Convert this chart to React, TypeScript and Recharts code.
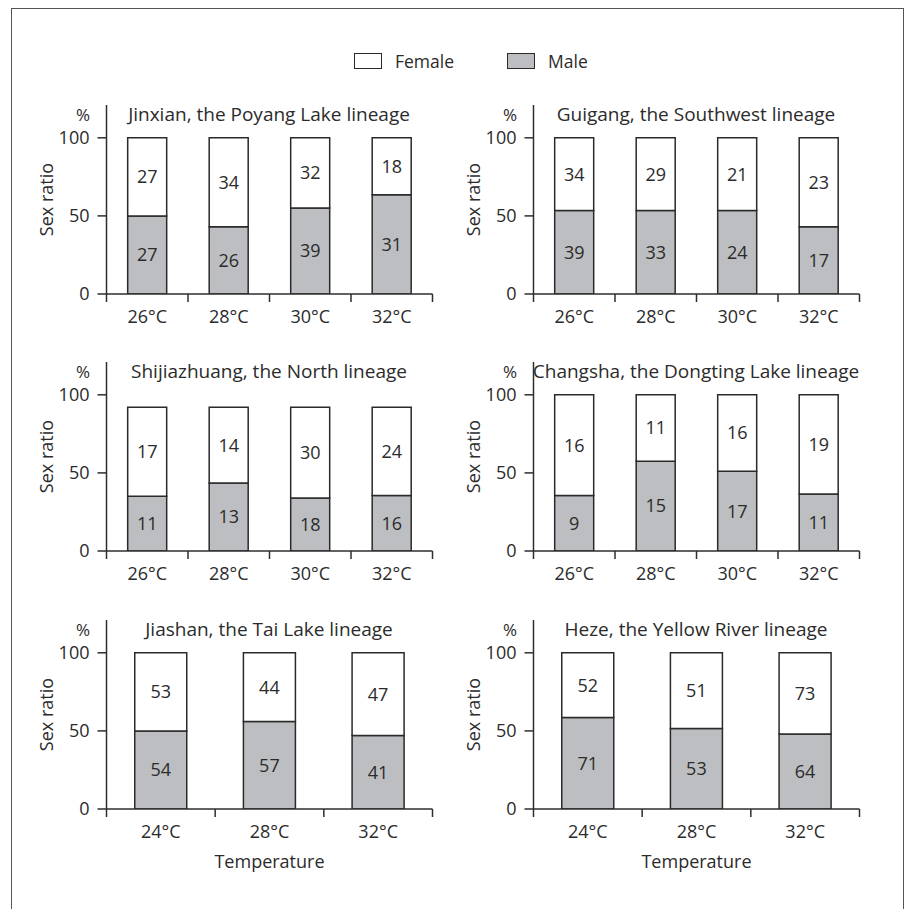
import { BarChart, Bar, XAxis, YAxis, LabelList, Label } from "recharts";

const temps4 = ["26°C", "28°C", "30°C", "32°C"];
const temps3 = ["24°C", "28°C", "32°C"];

// counts written in the bars
const jinxianMale = [27, 26, 39, 31];
const jinxianFemale = [27, 34, 32, 18];
const guigangMale = [39, 33, 24, 17];
const guigangFemale = [34, 29, 21, 23];
const shijiazhuangMale = [11, 13, 18, 16];
const shijiazhuangFemale = [17, 14, 30, 24];
const changshaMale = [9, 15, 17, 11];
const changshaFemale = [16, 11, 16, 19];
const jiashanMale = [54, 57, 41];
const jiashanFemale = [53, 44, 47];
const hezeMale = [71, 53, 64];
const hezeFemale = [52, 51, 73];

// plotted heights (%): male part and the whole bar
const jinxianMalePct = [50, 43, 55, 63.5];
const jinxianTotal = [100, 100, 100, 100];
const guigangMalePct = [53.5, 53.5, 53.5, 43];
const guigangTotal = [100, 100, 100, 100];
const shijiazhuangMalePct = [35, 43.5, 34, 35.5];
const shijiazhuangTotal = [92, 92, 92, 92];
const changshaMalePct = [35.5, 57.5, 51, 36.5];
const changshaTotal = [100, 100, 100, 100];
const jiashanMalePct = [50, 56, 47];
const jiashanTotal = [100, 100, 100];
const hezeMalePct = [58.5, 51.5, 48];
const hezeTotal = [100, 100, 100];

const yTicks = [0, 50, 100];

const FONT = '"Open Sans", sans-serif';
const TEXT = "#2b2b2b";
const AXIS = "#2e2e2e";
const EDGE = "#2a2a2a";
const GREY = "#bdbec1";
const FS = 18;

const CHART_W = 460;
const CHART_H = 260;
const PLOT_H = 189;
const AXIS_W = 106;
const RIGHT = 28;
const Y_MAX = 121;

// category label in the middle, tick marks on the band edges
const BoundTick = (props: any) => {
  const { x, y, payload, index, band, n } = props;
  const axisY = y - 16;
  const left = x - band / 2;
  const right = x + band / 2;
  return (
    <g>
      <line x1={left} x2={left} y1={axisY} y2={axisY + 8} stroke={AXIS} strokeWidth={1.5} />
      {index === n - 1 && (
        <line x1={right} x2={right} y1={axisY} y2={axisY + 8} stroke={AXIS} strokeWidth={1.5} />
      )}
      <text x={x} y={y} dy="0.71em" textAnchor="middle" fill={TEXT} fontSize={FS} fontFamily={FONT}>
        {payload.value}
      </text>
    </g>
  );
};

type PanelProps = {
  title: string;
  temps: string[];
  male: number[];
  female: number[];
  malePct: number[];
  total: number[];
  left: number;
  top: number;
  showTemp?: boolean;
};

const Panel = ({ title, temps, male, female, malePct, total, left, top, showTemp }: PanelProps) => {
  const data = temps.map((t, i) => ({
    temp: t,
    male: malePct[i],
    female: total[i] - malePct[i],
    maleN: male[i],
    femaleN: female[i],
  }));
  const n = temps.length;
  const plotW = CHART_W - RIGHT - AXIS_W;
  const band = plotW / n;
  const tickStyle = { fill: TEXT, fontSize: FS, fontFamily: FONT };
  const labelStyle = { fill: TEXT, fontSize: FS, fontFamily: FONT };

  return (
    <>
      <div
        style={{
          position: "absolute",
          left: left + AXIS_W - 23,
          top: top + 9,
          transform: "translate(-50%, -50%)",
          fontFamily: FONT,
          fontSize: 17,
          color: TEXT,
          lineHeight: 1,
        }}
      >
        %
      </div>
      <div
        style={{
          position: "absolute",
          left: left + AXIS_W + plotW / 2,
          top: top + 9,
          transform: "translate(-50%, -50%)",
          fontFamily: FONT,
          fontSize: 19,
          color: TEXT,
          lineHeight: 1,
          whiteSpace: "nowrap",
        }}
      >
        {title}
      </div>
      <div style={{ position: "absolute", left, top, width: CHART_W, height: CHART_H }}>
        <BarChart
          width={CHART_W}
          height={CHART_H}
          data={data}
          margin={{ top: 0, right: RIGHT - 0.5, left: 0.5, bottom: 0 }}
          barCategoryGap="26%"
        >
          <XAxis
            dataKey="temp"
            height={CHART_H - PLOT_H}
            interval={0}
            stroke={AXIS}
            strokeWidth={1.5}
            axisLine={{ stroke: AXIS, strokeWidth: 1.5 }}
            tickLine={false}
            tickSize={8}
            tickMargin={8}
            tick={(p: any) => <BoundTick {...p} band={band} n={n} />}
          >
            {showTemp && (
              <Label value="Temperature" position="insideTop" offset={46} style={labelStyle} />
            )}
          </XAxis>
          <YAxis
            domain={[0, Y_MAX]}
            ticks={yTicks}
            allowDataOverflow
            width={AXIS_W}
            stroke={AXIS}
            strokeWidth={1.5}
            tickSize={9}
            tickMargin={8}
            tick={tickStyle}
            axisLine={{ stroke: AXIS, strokeWidth: 1.5 }}
            tickLine={{ stroke: AXIS, strokeWidth: 1.5 }}
          >
            <Label
              value="Sex ratio"
              angle={-90}
              position="insideLeft"
              offset={46}
              style={{ ...labelStyle, textAnchor: "middle" }}
            />
          </YAxis>
          <Bar
            dataKey="male"
            stackId="s"
            fill={GREY}
            stroke={EDGE}
            strokeWidth={1.5}
            isAnimationActive={false}
          >
            <LabelList dataKey="maleN" position="center" style={labelStyle} />
          </Bar>
          <Bar
            dataKey="female"
            stackId="s"
            fill="#ffffff"
            stroke={EDGE}
            strokeWidth={1.5}
            isAnimationActive={false}
          >
            <LabelList dataKey="femaleN" position="center" style={labelStyle} />
          </Bar>
        </BarChart>
      </div>
    </>
  );
};

const LegendBox = ({ fill, label, left }: { fill: string; label: string; left: number }) => (
  <div style={{ position: "absolute", left, top: 53, display: "flex", alignItems: "center" }}>
    <div
      style={{
        width: 28,
        height: 16,
        boxSizing: "border-box",
        border: `1.5px solid ${EDGE}`,
        background: fill,
      }}
    />
    <span style={{ marginLeft: 13, fontFamily: FONT, fontSize: 17.5, color: TEXT, lineHeight: "16px" }}>
      {label}
    </span>
  </div>
);

export default function App() {
  return (
    <div
      style={{
        position: "fixed",
        left: 0,
        top: 0,
        width: 909,
        height: 909,
        overflow: "hidden",
        background: "#fff",
      }}
    >
      <div
        style={{
          position: "absolute",
          left: 11,
          top: 8,
          width: 893,
          height: 930,
          boxSizing: "border-box",
          border: "1.5px solid #555",
        }}
      />
      <LegendBox fill="#ffffff" label="Female" left={354} />
      <LegendBox fill={GREY} label="Male" left={507} />

      <Panel title="Jinxian, the Poyang Lake lineage" temps={temps4} male={jinxianMale} female={jinxianFemale}
        malePct={jinxianMalePct} total={jinxianTotal} left={0} top={105} />
      <Panel title="Guigang, the Southwest lineage" temps={temps4} male={guigangMale} female={guigangFemale}
        malePct={guigangMalePct} total={guigangTotal} left={427} top={105} />
      <Panel title="Shijiazhuang, the North lineage" temps={temps4} male={shijiazhuangMale} female={shijiazhuangFemale}
        malePct={shijiazhuangMalePct} total={shijiazhuangTotal} left={0} top={362} />
      <Panel title="Changsha, the Dongting Lake lineage" temps={temps4} male={changshaMale} female={changshaFemale}
        malePct={changshaMalePct} total={changshaTotal} left={427} top={362} />
      <Panel title="Jiashan, the Tai Lake lineage" temps={temps3} male={jiashanMale} female={jiashanFemale}
        malePct={jiashanMalePct} total={jiashanTotal} left={0} top={620} showTemp />
      <Panel title="Heze, the Yellow River lineage" temps={temps3} male={hezeMale} female={hezeFemale}
        malePct={hezeMalePct} total={hezeTotal} left={427} top={620} showTemp />
    </div>
  );
}
